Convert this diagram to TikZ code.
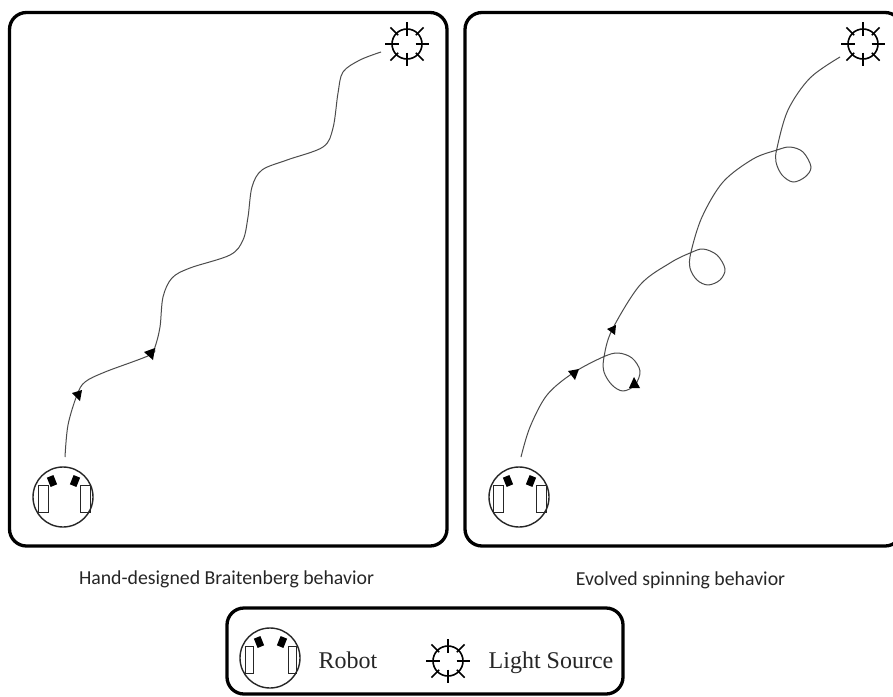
\documentclass[tikz,border=0pt]{standalone}
\usepackage{fontspec}
\setmainfont{Liberation Serif}
\newfontfamily\capfont{Carlito}
\tikzset{
  panel/.style={draw=black,line width=3.3pt,rounded corners=17pt,fill=none},
  thin line/.style={draw=black!85,line width=1pt},
  trail/.style={draw=black!70,line width=1pt,line join=round},
  tri/.style={fill=black,draw=none},
  tick/.style={draw=black,line width=1.6pt},
  capt/.style={font=\capfont\fontsize{19.8}{22}\selectfont,text=black!85,inner sep=0pt,anchor=base},
  legtext/.style={font=\fontsize{24}{28}\selectfont,text=black!85,inner sep=0pt,anchor=base}
}
\newcommand{\myrobot}[5]{% cx cy leftwheel x, rightwheel x, wheel width
  \begin{scope}[shift={(#1,#2)}]
    \draw[thin line,line width=1.4pt] (0,0) circle (30);
    \draw[thin line,line width=.9pt] (#3,-12) rectangle ++(#5,27);
    \draw[thin line,line width=.9pt] (#4,-12) rectangle ++(#5,27);
    \fill[rotate around={22:(-11,-16)}] (-14.5,-21) rectangle (-7.5,-11);
    \fill[rotate around={-22:(12,-16)}] (8.5,-21) rectangle (15.5,-11);
  \end{scope}}
\newcommand{\mylight}[2]{%
  \begin{scope}[shift={(#1,#2)}]
    \draw[tick] (0,0) circle (15);
    \foreach \a in {0,90,180,270} \draw[tick] (\a:8.5) -- (\a:22);
    \foreach \a in {45,135,225,315} \draw[tick] (\a:12.5) -- (\a:23.5);
  \end{scope}}
\begin{document}
\begin{tikzpicture}[x=1pt,y=-1pt]
\useasboundingbox (0,0) rectangle (893,696);
\clip (0,0) rectangle (893,696);
\fill[white] (0,0) rectangle (893,696);
% panels
\draw[panel] (9.5,12.5) rectangle (447,546);
\draw[panel] (465,12.5) rectangle (902,546);
\draw[panel] (227,608) rectangle (623,694);
% left trail
\draw[trail] plot[smooth,tension=0.55] coordinates {(65,457) (68,425) (77,395) (85,382) (105,372) (150,355) (155,347) (160,327) (163,297) (172,278) (190,268) (230,255) (243,240) (248,217) (252,187) (262,170) (287,160) (323,147) (333,128) (338,93) (343,72) (360,60) (381,52)};
\fill[tri] (72,393) -- (82,390) -- (80,401) -- cycle;
\fill[tri] (144,352) -- (155,348) -- (153,360) -- cycle;
% right trail
\draw[trail] plot[smooth,tension=0.55] coordinates {(521,457) (530,427) (547,395) (573,373) (603,357) (618,353) (632,358) (640,371) (635,385) (623,391) (612,385) (604,372) (604,357) (612,330) (640,285) (670,263) (690,253) (703,249) (717,255) (725,269) (720,280) (708,285) (697,280) (690,268) (691,252) (702,217) (723,182) (753,159) (777,150) (790,147) (803,152) (811,167) (805,177) (793,182) (782,175) (776,162) (777,148) (788,110) (810,78) (840,57)};
\fill[tri] (568,371) -- (579,369) -- (575,380) -- cycle;
\fill[tri] (607,329) -- (616,325) -- (615,335) -- cycle;
\fill[tri] (629,388) -- (634,377) -- (640,388) -- cycle;
% robots
\myrobot{63}{497}{-25}{17}{10}
\myrobot{519}{497}{-26}{17}{10}
\myrobot{270}{658}{-25}{18}{8}
% lights
\mylight{407}{44}
\mylight{863}{44}
\mylight{448}{661}
% texts
\node[capt] (capleft) at (226.5,584) {Hand-designed Braitenberg behavior};
\node[capt] (capright) at (680.5,585) {Evolved spinning behavior};
\node[legtext] (robotlabel) at (348,668) {Robot};
\node[legtext] (lightlabel) at (551,668) {Light Source};
\end{tikzpicture}
\end{document}
